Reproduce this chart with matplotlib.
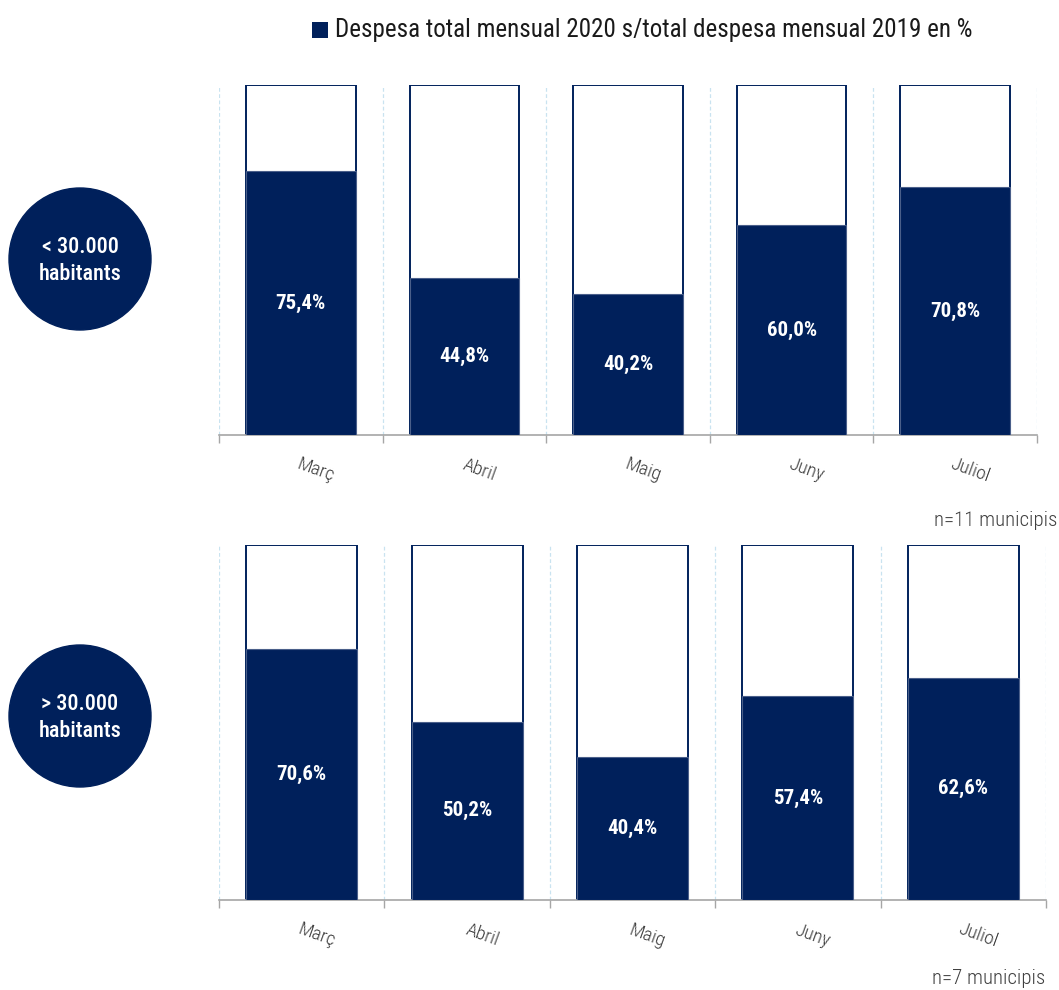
import matplotlib
matplotlib.use("Agg")
import matplotlib.pyplot as plt
from matplotlib.patches import Circle, Rectangle
from matplotlib import font_manager

months = ["Març", "Abril", "Maig", "Juny", "Juliol"]
small_vals = [75.4, 44.8, 40.2, 60.0, 70.8]
large_vals = [70.6, 50.2, 40.4, 57.4, 62.6]
group_labels = ["< 30.000\nhabitants", "> 30.000\nhabitants"]
n_labels = ["n=11 municipis", "n=7 municipis"]
legend_label = "Despesa total mensual 2020 s/total despesa mensual 2019 en %"

NAVY = "#00205B"
GRID = "#C9E3F0"
SPINE = "#A6A6A6"
TXT = "#404040"

avail = {f.name for f in font_manager.fontManager.ttflist}
fam = [f for f in ["Roboto Condensed", "Liberation Sans Narrow", "Open Sans Condensed"] if f in avail] + ["DejaVu Sans"]
plt.rcParams["font.family"] = fam

W, H = 1059, 990
fig = plt.figure(figsize=(W / 100, H / 100), dpi=100)


def px_axes(x0, y0, x1, y1):
    return fig.add_axes([x0 / W, 1 - y1 / H, (x1 - x0) / W, (y1 - y0) / H])


def draw_panel(ax, vals):
    xs = list(range(len(months)))
    ax.set_xlim(-0.5, len(months) - 0.5)
    ax.set_ylim(0, 100)
    bw = 0.67
    ax.bar(xs, [100] * len(xs), width=bw, color="white", edgecolor=NAVY, linewidth=1.4, zorder=2)
    ax.bar(xs, vals, width=bw, color=NAVY, edgecolor="#4A5F8A", linewidth=0.8, zorder=3)
    for x, v in zip(xs, vals):
        ax.text(x, v / 2, f"{v:.1f}%".replace(".", ","), color="white", fontsize=15,
                fontweight="bold", ha="center", va="center", zorder=4)
    bounds = [i - 0.5 for i in range(len(months) + 1)]
    for b in bounds:
        ax.axvline(b, color=GRID, linestyle=(0, (3, 2)), linewidth=0.9, zorder=1)
    for s in ["top", "right", "left"]:
        ax.spines[s].set_visible(False)
    ax.spines["bottom"].set_color(SPINE)
    ax.spines["bottom"].set_linewidth(1.2)
    ax.set_yticks([])
    ax.set_xticks(bounds)
    ax.set_xticklabels([])
    ax.tick_params(axis="x", length=6, color=SPINE, width=1.0)
    for x, m in zip(xs, months):
        ax.text(x + 0.09, -10, m, rotation=-20, ha="center", va="center",
                fontsize=14, color="#3A3A3A", fontweight="light", transform=ax.transData,
                clip_on=False)


ax1 = px_axes(219, 85, 1037, 435)
draw_panel(ax1, small_vals)
ax2 = px_axes(219, 545, 1046, 900)
draw_panel(ax2, large_vals)

for (cx, cy), lab in zip([(80, 259), (80, 716)], group_labels):
    cax = px_axes(cx - 73, cy - 73, cx + 73, cy + 73)
    cax.set_xlim(-1, 1)
    cax.set_ylim(-1, 1)
    cax.axis("off")
    cax.add_patch(Circle((0, 0), 71 / 73, color=NAVY))
    cax.text(0, -0.02, lab, color="white", fontsize=16, fontweight="medium", ha="center",
             va="center", linespacing=1.25)

# legend
fig.patches.append(Rectangle((312 / W, 1 - 38 / H), 16 / W, 16 / H, transform=fig.transFigure,
                             facecolor=NAVY, edgecolor="none"))
fig.text(335 / W, 1 - 30 / H, legend_label, fontsize=18, color="#1A1A1A", ha="left", va="center")

fig.text(1057 / W, 1 - 520 / H, n_labels[0], fontsize=15, color=TXT, ha="right", va="center",
         fontweight="light")
fig.text(1045 / W, 1 - 978 / H, n_labels[1], fontsize=15, color=TXT, ha="right", va="center",
         fontweight="light")

fig.savefig("out.png", dpi=100)
